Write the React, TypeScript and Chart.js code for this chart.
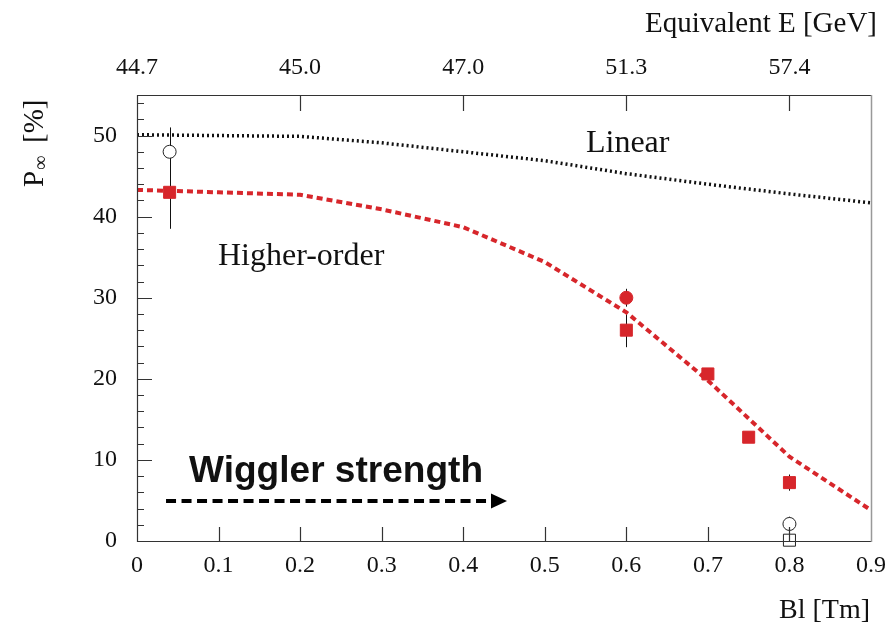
import React, { useEffect, useRef } from 'react';
import { Chart, registerables } from 'chart.js';

Chart.register(...registerables);

// ---- data ----
const curveX = [0, 0.1, 0.2, 0.3, 0.4, 0.5, 0.6, 0.7, 0.8, 0.9];
const linearP = [50.1, 50.0, 49.9, 49.1, 48.0, 46.9, 45.3, 44.0, 42.8, 41.7];
const higherOrderP = [43.3, 43.0, 42.7, 40.9, 38.7, 34.4, 28.2, 19.8, 10.4, 3.8];

const redSquareX = [0.04, 0.6, 0.7, 0.75, 0.8];
const redSquareY = [43.0, 26.0, 20.6, 12.8, 7.2];
const redSquareErr = [4.5, 2.1, 0, 0, 1.0];

const redCircleX = [0.6];
const redCircleY = [30.0];
const redCircleErr = [1.1];

const openCircleX = [0.04, 0.8];
const openCircleY = [48.0, 2.1];
const openCircleErr = [3.0, 0.9];

const openSquareX = [0.8];
const openSquareY = [0.1];
const openSquareErr = [0];

const xTickValues = [0, 0.1, 0.2, 0.3, 0.4, 0.5, 0.6, 0.7, 0.8, 0.9];
const yTickValues = [0, 10, 20, 30, 40, 50];
const yMinorStep = 2;
const topTickValues = [0, 0.2, 0.4, 0.6, 0.8];
const topTickLabels = ['44.7', '45.0', '47.0', '51.3', '57.4'];

const RED = '#d7262b';
const SERIF = "'Liberation Serif', 'Times New Roman', serif";
const SANS = "'Liberation Sans', Arial, sans-serif";

const pts = (xs: number[], ys: number[]) => xs.map((x, i) => ({ x, y: ys[i] }));

const framePlugin = {
  id: 'framePlugin',
  beforeDatasetsDraw(chart: any) {
    const { ctx, scales } = chart;
    const xs = scales.x;
    const ys = scales.y;
    ctx.save();
    ctx.strokeStyle = '#111';
    ctx.lineWidth = 1;
    chart.data.datasets.forEach((ds: any) => {
      if (!ds.errors) return;
      ds.data.forEach((p: any, i: number) => {
        const e = ds.errors[i];
        if (!e) return;
        const px = Math.round(xs.getPixelForValue(p.x)) + 0.5;
        ctx.beginPath();
        ctx.moveTo(px, ys.getPixelForValue(p.y - e));
        ctx.lineTo(px, ys.getPixelForValue(p.y + e));
        ctx.stroke();
      });
    });
    ctx.restore();
  },
  afterDraw(chart: any) {
    const { ctx, chartArea, scales } = chart;
    const { left, right, top, bottom } = chartArea;
    const xs = scales.x;
    const ys = scales.y;
    ctx.save();
    // frame
    ctx.lineWidth = 1.2;
    ctx.strokeStyle = '#333';
    ctx.beginPath();
    ctx.moveTo(right, top + 0.5);
    ctx.lineTo(left + 0.5, top + 0.5);
    ctx.lineTo(left + 0.5, bottom + 0.5);
    ctx.lineTo(right, bottom + 0.5);
    ctx.stroke();
    ctx.strokeStyle = '#999';
    ctx.lineWidth = 1.5;
    ctx.beginPath();
    ctx.moveTo(right + 0.5, top);
    ctx.lineTo(right + 0.5, bottom + 1);
    ctx.stroke();

    // ticks
    ctx.strokeStyle = '#333';
    ctx.lineWidth = 1.2;
    ctx.beginPath();
    xTickValues.forEach((v) => {
      if (v <= 0 || v >= 0.9) return;
      const px = Math.round(xs.getPixelForValue(v)) + 0.5;
      ctx.moveTo(px, bottom);
      ctx.lineTo(px, bottom - 14);
    });
    topTickValues.forEach((v) => {
      if (v <= 0) return;
      const px = Math.round(xs.getPixelForValue(v)) + 0.5;
      ctx.moveTo(px, top);
      ctx.lineTo(px, top + 16);
    });
    for (let v = yMinorStep; v < ys.max; v += yMinorStep) {
      const py = Math.round(ys.getPixelForValue(v)) + 0.5;
      const major = yTickValues.includes(v);
      ctx.moveTo(left, py);
      ctx.lineTo(left + (major ? 15 : 7), py);
    }
    ctx.stroke();

    // axis titles
    ctx.fillStyle = '#111';
    ctx.font = `29px ${SERIF}`;
    ctx.textBaseline = 'alphabetic';
    ctx.textAlign = 'right';
    ctx.fillText('Equivalent E [GeV]', 877, 32);
    ctx.font = `28px ${SERIF}`;
    ctx.fillText('Bl [Tm]', 870, 618);

    // y title (rotated) P∞ [%]
    ctx.save();
    ctx.translate(43, 187);
    ctx.rotate(-Math.PI / 2);
    ctx.textAlign = 'left';
    ctx.font = `29px ${SERIF}`;
    ctx.fillText('P', 0, 0);
    ctx.font = `20px ${SERIF}`;
    ctx.fillText('\u221E', 17, 4);
    ctx.font = `29px ${SERIF}`;
    ctx.fillText('[%]', 44, 0);
    ctx.restore();

    // annotations (data coordinates)
    ctx.textAlign = 'left';
    ctx.font = `32px ${SERIF}`;
    ctx.fillText('Linear', xs.getPixelForValue(0.5505), ys.getPixelForValue(47.96));
    ctx.fillText('Higher-order', xs.getPixelForValue(0.0993), ys.getPixelForValue(34.0));

    ctx.save();
    ctx.font = `bold 36px ${SANS}`;
    ctx.translate(xs.getPixelForValue(0.0638), ys.getPixelForValue(7.27));
    const w = ctx.measureText('Wiggler strength').width;
    ctx.scale(294 / w, 1);
    ctx.fillText('Wiggler strength', 0, 0);
    ctx.restore();

    // arrow
    const ay = ys.getPixelForValue(4.93);
    const ax0 = xs.getPixelForValue(0.0356);
    const axTip = xs.getPixelForValue(0.4537);
    ctx.strokeStyle = '#000';
    ctx.lineWidth = 4;
    ctx.setLineDash([10, 5.5]);
    ctx.beginPath();
    ctx.moveTo(ax0, ay);
    ctx.lineTo(axTip - 16, ay);
    ctx.stroke();
    ctx.setLineDash([]);
    ctx.fillStyle = '#000';
    ctx.beginPath();
    ctx.moveTo(axTip, ay);
    ctx.lineTo(axTip - 16, ay - 7.5);
    ctx.lineTo(axTip - 16, ay + 7.5);
    ctx.closePath();
    ctx.fill();
    ctx.restore();
  },
};

export default function App() {
  const ref = useRef<HTMLCanvasElement | null>(null);

  useEffect(() => {
    if (!ref.current) return;
    const tickFont = { family: SERIF, size: 24 };
    const chart = new Chart(ref.current, {
      type: 'scatter',
      data: {
        datasets: [
          {
            label: 'Open square',
            data: pts(openSquareX, openSquareY),
            errors: openSquareErr,
            pointStyle: 'rect',
            pointRadius: 8.5,
            backgroundColor: '#fff',
            borderColor: '#222',
            borderWidth: 1,
            clip: false,
          } as any,
          {
            label: 'Open circle',
            data: pts(openCircleX, openCircleY),
            errors: openCircleErr,
            pointStyle: 'circle',
            pointRadius: 6.5,
            backgroundColor: '#fff',
            borderColor: '#222',
            borderWidth: 1,
            clip: false,
          } as any,
          {
            label: 'Red circle',
            data: pts(redCircleX, redCircleY),
            errors: redCircleErr,
            pointStyle: 'circle',
            pointRadius: 6.5,
            backgroundColor: RED,
            borderColor: RED,
            borderWidth: 1,
            clip: false,
          } as any,
          {
            label: 'Red square',
            data: pts(redSquareX, redSquareY),
            errors: redSquareErr,
            pointStyle: 'rect',
            pointRadius: 8.5,
            backgroundColor: RED,
            borderColor: RED,
            borderWidth: 1,
            clip: false,
          } as any,
          {
            label: 'Higher-order',
            data: pts(curveX, higherOrderP),
            showLine: true,
            pointRadius: 0,
            borderColor: RED,
            borderWidth: 4,
            borderDash: [6, 4],
            tension: 0,
          },
          {
            label: 'Linear',
            data: pts(curveX, linearP),
            showLine: true,
            pointRadius: 0,
            borderColor: '#111',
            borderWidth: 3.5,
            borderDash: [2, 3],
            tension: 0,
          },
        ],
      },
      options: {
        responsive: false,
        maintainAspectRatio: false,
        animation: false,
        layout: { padding: { left: 0, right: 24, top: 0, bottom: 0 } },
        plugins: { legend: { display: false }, tooltip: { enabled: false } },
        scales: {
          x: {
            type: 'linear',
            position: 'bottom',
            min: 0,
            max: 0.9,
            grid: { display: false },
            border: { display: false },
            ticks: {
              font: tickFont,
              color: '#111',
              padding: 2,
              autoSkip: false,
              maxRotation: 0,
              callback: (v: any) => (Number(v) === 0 ? '0' : Number(v).toFixed(1)),
            },
            afterBuildTicks: (s: any) => {
              s.ticks = xTickValues.map((v) => ({ value: v }));
            },
            afterFit: (s: any) => {
              s.height = 83;
            },
          },
          x2: {
            type: 'linear',
            position: 'top',
            min: 0,
            max: 0.9,
            grid: { display: false },
            border: { display: false },
            ticks: {
              font: tickFont,
              color: '#111',
              padding: 5,
              autoSkip: false,
              maxRotation: 0,
              callback: (_v: any, i: number) => topTickLabels[i],
            },
            afterBuildTicks: (s: any) => {
              s.ticks = topTickValues.map((v) => ({ value: v }));
            },
            afterFit: (s: any) => {
              s.height = 95;
            },
          },
          y: {
            type: 'linear',
            position: 'left',
            min: 0,
            max: 55,
            grid: { display: false },
            border: { display: false },
            ticks: {
              font: tickFont,
              color: '#111',
              padding: 12,
              autoSkip: false,
            },
            afterBuildTicks: (s: any) => {
              s.ticks = yTickValues.map((v) => ({ value: v }));
            },
            afterFit: (s: any) => {
              s.width = 137;
            },
          },
        },
      } as any,
      plugins: [framePlugin],
    });
    return () => chart.destroy();
  }, []);

  return (
    <div style={{ position: 'fixed', left: 0, top: 0, width: 895, height: 624, background: '#fff' }}>
      <canvas ref={ref} width={895} height={624} style={{ display: 'block' }} />
    </div>
  );
}
